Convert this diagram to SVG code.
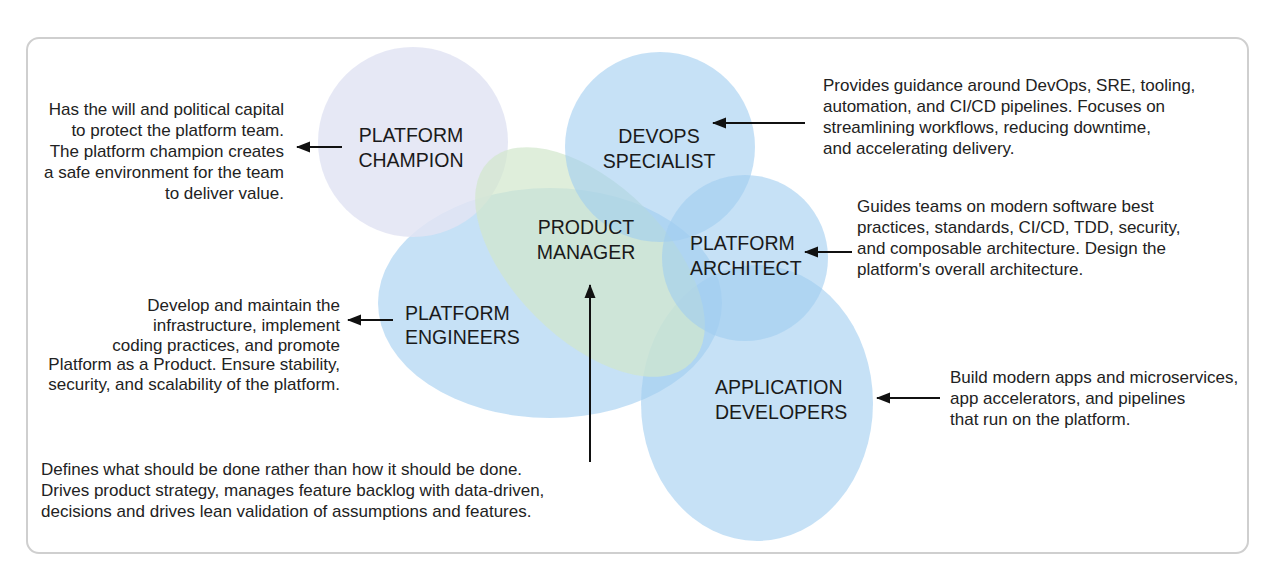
<svg xmlns="http://www.w3.org/2000/svg" width="1274" height="578" viewBox="0 0 1274 578">
  <style>
    .d { font-family: "Liberation Sans", Arial, sans-serif; font-size: 17px; fill: #222222; }
    .r { text-anchor: end; }
    .lbl { font-family: "Liberation Sans", Arial, sans-serif; font-size: 19.5px; fill: #1a1a1a; }
    .c { text-anchor: middle; }
    .blue { fill: #a0cdf0; fill-opacity: 0.6; }
    .lav { fill: #e2e4f3; fill-opacity: 0.85; }
    .green { fill: #d2e7cc; fill-opacity: 0.7; }
    .arrow { stroke: #111111; stroke-width: 2; fill: none; marker-end: url(#ah); }
  </style>
  <defs>
    <marker id="ah" markerUnits="userSpaceOnUse" markerWidth="14" markerHeight="12" refX="13" refY="6" orient="auto">
      <path d="M0,0.5 L14,6 L0,11.5 Z" fill="#111111"/>
    </marker>
  </defs>
  <rect x="0" y="0" width="1274" height="578" fill="#ffffff"/>
  <rect id="frame" x="27" y="38" width="1221" height="515" rx="12" ry="12" fill="#ffffff" stroke="#cfcfcf" stroke-width="2"/>

  <g id="platform-engineers">
    <ellipse class="blue" cx="550" cy="303" rx="172" ry="115"/>
  </g>
  <g id="application-developers">
    <ellipse class="blue" cx="757" cy="403" rx="116" ry="138"/>
  </g>
  <g id="platform-champion">
    <circle class="lav" cx="413" cy="142" r="95"/>
  </g>
  <g id="product-manager">
    <ellipse class="green" cx="590" cy="262" rx="143" ry="77" transform="rotate(45 590 262)"/>
  </g>
  <g id="devops-specialist">
    <circle class="blue" cx="660" cy="147" r="95"/>
  </g>
  <g id="platform-architect">
    <circle class="blue" cx="745" cy="258" r="83"/>
  </g>

  <g id="labels">
    <text class="lbl c" x="411" y="142">PLATFORM</text>
    <text class="lbl c" x="411" y="167">CHAMPION</text>
    <text class="lbl c" x="659" y="143">DEVOPS</text>
    <text class="lbl c" x="659" y="168">SPECIALIST</text>
    <text class="lbl c" x="586" y="234">PRODUCT</text>
    <text class="lbl c" x="586" y="259">MANAGER</text>
    <text class="lbl" x="690" y="250">PLATFORM</text>
    <text class="lbl" x="690" y="275">ARCHITECT</text>
    <text class="lbl" x="405" y="320">PLATFORM</text>
    <text class="lbl" x="405" y="344">ENGINEERS</text>
    <text class="lbl" x="715" y="394">APPLICATION</text>
    <text class="lbl" x="715" y="419">DEVELOPERS</text>
  </g>

  <g id="champion-desc">
    <text class="d r" x="284" y="115">Has the will and political capital</text>
    <text class="d r" x="284" y="136">to protect the platform team.</text>
    <text class="d r" x="284" y="157">The platform champion creates</text>
    <text class="d r" x="284" y="178">a safe environment for the team</text>
    <text class="d r" x="284" y="199">to deliver value.</text>
  </g>
  <g id="devops-desc">
    <text class="d" x="823" y="91">Provides guidance around DevOps, SRE, tooling,</text>
    <text class="d" x="823" y="112">automation, and CI/CD pipelines. Focuses on</text>
    <text class="d" x="823" y="133">streamlining workflows, reducing downtime,</text>
    <text class="d" x="823" y="154">and accelerating delivery.</text>
  </g>
  <g id="architect-desc">
    <text class="d" x="857" y="212">Guides teams on modern software best</text>
    <text class="d" x="857" y="233">practices, standards, CI/CD, TDD, security,</text>
    <text class="d" x="857" y="254">and composable architecture. Design the</text>
    <text class="d" x="857" y="275">platform's overall architecture.</text>
  </g>
  <g id="engineers-desc">
    <text class="d r" x="340" y="311">Develop and maintain the</text>
    <text class="d r" x="340" y="331">infrastructure, implement</text>
    <text class="d r" x="340" y="351">coding practices, and promote</text>
    <text class="d r" x="340" y="370">Platform as a Product. Ensure stability,</text>
    <text class="d r" x="340" y="390">security, and scalability of the platform.</text>
  </g>
  <g id="appdev-desc">
    <text class="d" x="950" y="383">Build modern apps and microservices,</text>
    <text class="d" x="950" y="404">app accelerators, and pipelines</text>
    <text class="d" x="950" y="425">that run on the platform.</text>
  </g>
  <g id="pm-desc">
    <text class="d" x="41" y="475">Defines what should be done rather than how it should be done.</text>
    <text class="d" x="41" y="496">Drives product strategy, manages feature backlog with data-driven,</text>
    <text class="d" x="41" y="517">decisions and drives lean validation of assumptions and features.</text>
  </g>

  <g id="connectors">
    <line class="arrow" x1="342" y1="147" x2="297" y2="147"/>
    <line class="arrow" x1="805" y1="123" x2="713" y2="123"/>
    <line class="arrow" x1="852" y1="252" x2="805" y2="252"/>
    <line class="arrow" x1="393" y1="320" x2="348" y2="320"/>
    <line class="arrow" x1="940" y1="398" x2="877" y2="398"/>
    <line class="arrow" x1="590" y1="462" x2="590" y2="285"/>
  </g>
</svg>
